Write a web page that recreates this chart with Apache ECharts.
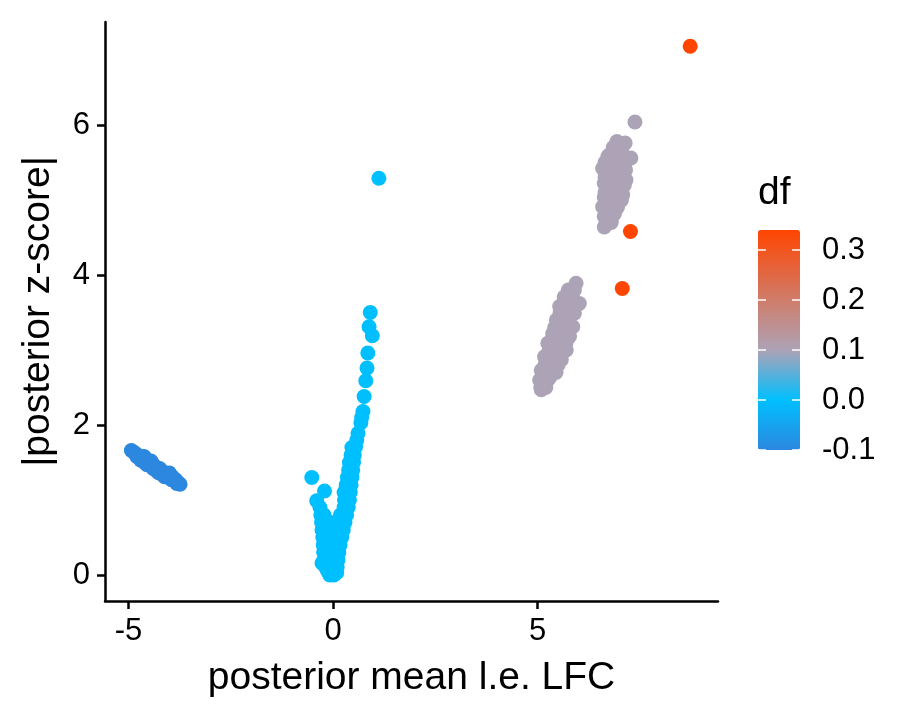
<!DOCTYPE html>
<html>
<head>
<meta charset="utf-8">
<script src="https://cdn.jsdelivr.net/npm/echarts@6/dist/echarts.min.js"></script>
<style>
html,body{margin:0;padding:0;background:#fff;}
#chart{width:900px;height:720px;}
</style>
</head>
<body>
<div id="chart"></div>
<script>
// ---- data ----
// df = -0.1 group
const lfcNeg = [-4.93,-4.85,-4.78,-4.72,-4.66,-4.60,-4.60,-4.55,-4.50,-4.45,-4.45,-4.42,-4.38,-4.33,-4.30,-4.28,-4.24,-4.20,-4.15,-4.10,-4.05,-4.05,-4.00,-3.98,-3.93,-3.88,-3.85,-3.80,-3.74,
  -4.80,-4.70,-4.55,-4.40,-4.25,-4.12,-3.95,-3.82,-4.62];
const zNeg   = [1.66,1.63,1.60,1.58,1.55,1.54,1.50,1.51,1.50,1.47,1.52,1.49,1.45,1.44,1.38,1.41,1.42,1.39,1.37,1.36,1.35,1.31,1.36,1.32,1.31,1.28,1.27,1.24,1.21,
  1.58,1.53,1.47,1.42,1.36,1.31,1.27,1.22,1.58];
const dfNeg = -0.1;

// df = 0 group
const lfcZero = [1.12,0.91,0.88,0.96,0.85,0.83,0.80,0.76,0.73,0.70,0.68,0.61,0.58,
  0.46,0.55,0.44,0.52,0.40,0.50,0.38,0.48,0.35,0.46,0.32,0.44,0.27,0.33,0.42,0.28,0.40,0.27,0.37,
  0.18,0.33,0.14,0.29,0.10,0.25,0.08,0.21,0.05,0.17,0.03,0.14,0.02,0.12,0.01,0.10,0.05,0.09,
  -0.52,-0.21,-0.40,-0.32,-0.30,-0.22,-0.28,-0.18,-0.05,-0.27,-0.15,-0.03,-0.25,-0.12,0.00,
  -0.24,-0.10,-0.02,-0.23,-0.12,-0.22,-0.08,-0.27,-0.18,-0.06,-0.13,-0.02,-0.08,0.02];
const zZero = [5.29,3.50,3.31,3.19,2.96,2.76,2.59,2.38,2.18,2.10,2.03,1.89,1.80,
  1.70,1.71,1.60,1.60,1.50,1.50,1.40,1.40,1.30,1.30,1.20,1.20,1.10,1.10,1.10,1.00,1.00,0.90,0.90,
  0.80,0.80,0.70,0.70,0.60,0.60,0.50,0.50,0.40,0.40,0.30,0.30,0.20,0.20,0.10,0.10,0.03,0.03,
  1.30,1.12,0.99,0.90,0.80,0.80,0.70,0.70,0.70,0.60,0.60,0.60,0.50,0.50,0.50,
  0.40,0.40,0.40,0.30,0.30,0.20,0.20,0.16,0.10,0.10,0.05,0.05,0.00,0.00];
const dfZero = 0.0;

// df = 0.1 groups (two clusters)
const lfcMidHi = [7.38,6.94,7.14,7.28,6.59,6.72,6.95,7.16,6.63,6.63,7.08,6.59,6.96,6.63,6.88,6.63,
  6.85,7.05,6.75,6.90,7.10,6.65,6.90,7.15,6.70,6.95,7.15,6.65,6.85,7.10,6.70,6.95,7.12,6.65,6.85,7.05,6.70,6.90,7.05,6.75,6.95,6.70,6.85,6.68,6.80];
const zMidHi   = [6.04,5.78,5.76,5.56,5.42,5.58,5.63,5.27,5.22,5.04,5.07,4.91,4.93,4.78,4.82,4.64,
  5.70,5.70,5.60,5.60,5.60,5.50,5.50,5.50,5.40,5.40,5.40,5.30,5.30,5.30,5.20,5.20,5.20,5.10,5.10,5.10,5.00,5.00,5.00,4.90,4.90,4.80,4.80,4.70,4.70];
const lfcMidLo = [5.94,5.66,6.02,5.54,5.90,5.46,5.86,5.37,5.78,5.25,5.70,5.17,5.58,5.09,5.41,5.05,5.29,5.09,
  5.75,5.90,5.65,5.85,5.60,5.80,5.95,5.55,5.75,5.50,5.70,5.42,5.62,5.80,5.38,5.58,5.75,5.32,5.50,5.70,5.28,5.45,5.62,5.22,5.40,5.55,5.18,5.35,5.50,5.12,5.30,5.45,5.10,5.25,5.08,5.20];
const zMidLo   = [3.89,3.71,3.62,3.58,3.49,3.40,3.31,3.22,3.18,3.09,3.00,2.91,2.87,2.73,2.73,2.60,2.63,2.47,
  3.80,3.80,3.70,3.70,3.60,3.60,3.60,3.50,3.50,3.40,3.40,3.30,3.30,3.30,3.20,3.20,3.20,3.10,3.10,3.10,3.00,3.00,3.00,2.90,2.90,2.90,2.80,2.80,2.80,2.70,2.70,2.70,2.60,2.60,2.50,2.50];
const dfMid = 0.1;

// df = max group
const lfcHigh = [8.73,7.27,7.07];
const zHigh   = [7.05,4.58,3.82];
const dfHigh = 0.34;

// axes / legend ticks
const xTicks = [-5, 0, 5];
const yTicks = [0, 2, 4, 6];
const dfTicks = [0.3, 0.2, 0.1, 0.0, -0.1];
const dfTickLabels = ['0.3','0.2','0.1','0.0','-0.1'];

// ---- build ----
function pts(xs, ys, d){ return xs.map((x,i)=>[x, ys[i], d]); }
const data = [].concat(
  pts(lfcNeg, zNeg, dfNeg),
  pts(lfcZero, zZero, dfZero),
  pts(lfcMidHi, zMidHi, dfMid),
  pts(lfcMidLo, zMidLo, dfMid),
  pts(lfcHigh, zHigh, dfHigh)
);

const dfMin = -0.1, dfMax = 0.34;
// colour anchors (value, colour)
const anchorVals = [-0.1, 0.0, 0.1, 0.34];
const anchorCols = ['#2C87DF', '#00BFFF', '#ADA3B6', '#FF4500'];
function h2r(h){ return [parseInt(h.slice(1,3),16),parseInt(h.slice(3,5),16),parseInt(h.slice(5,7),16)]; }
function r2h(c){ return '#'+c.map(v=>Math.round(v).toString(16).padStart(2,'0')).join(''); }
function colAt(v){
  for(let i=0;i<anchorVals.length-1;i++){
    if(v<=anchorVals[i+1]+1e-9){
      const t=(v-anchorVals[i])/(anchorVals[i+1]-anchorVals[i]);
      const a=h2r(anchorCols[i]), b=h2r(anchorCols[i+1]);
      return r2h(a.map((c,k)=>c+(b[k]-c)*Math.max(0,Math.min(1,t))));
    }
  }
  return anchorCols[anchorCols.length-1];
}
const nStops = 89;
const ramp = [];
for(let i=0;i<nStops;i++){ ramp.push(colAt(dfMin + (dfMax-dfMin)*i/(nStops-1))); }

const FONT = 'Liberation Sans';
const barLeft = 758, barTop = 230, barW = 42, barH = 220;
function dfY(v){ return barTop + (dfMax - v)/(dfMax - dfMin)*barH; }

const graphics = [{
  type:'text', left: barLeft, top: 174,
  style:{ text:'df', font: '39px "'+FONT+'"', fill:'#000' }
}];
dfTicks.forEach((v,i)=>{
  const y = dfY(v);
  graphics.push({type:'line', shape:{x1:barLeft, y1:y, x2:barLeft+8, y2:y}, style:{stroke:'#fff', lineWidth:1.5}, z:100});
  graphics.push({type:'line', shape:{x1:barLeft+barW-8, y1:y, x2:barLeft+barW, y2:y}, style:{stroke:'#fff', lineWidth:1.5}, z:100});
  graphics.push({type:'text', x: barLeft+barW+22, y: y,
    style:{ text: dfTickLabels[i], font:'31px "'+FONT+'"', fill:'#000', textVerticalAlign:'middle', verticalAlign:'middle' }, z:100});
});

const chart = echarts.init(document.getElementById('chart'));
chart.setOption({
  backgroundColor:'#fff',
  animation:false,
  grid:{ left:105, top:22, width:613, height:579, containLabel:false },
  xAxis:{
    type:'value', min:-5.575, max:9.41,
    splitLine:{show:false},
    axisLine:{ onZero:false, lineStyle:{color:'#000', width:2.5} },
    axisTick:{ show:true, length:8, lineStyle:{color:'#000', width:2.5}, customValues: xTicks },
    axisLabel:{ customValues: xTicks, color:'#000', fontSize:31, fontFamily:FONT, margin:15 },
    name:'posterior mean l.e. LFC', nameLocation:'middle', nameGap:58,
    nameTextStyle:{ color:'#000', fontSize:39, fontFamily:FONT }
  },
  yAxis:{
    type:'value', min:-0.347, max:7.373,
    splitLine:{show:false},
    axisLine:{ onZero:false, lineStyle:{color:'#000', width:2.5} },
    axisTick:{ show:true, length:8, lineStyle:{color:'#000', width:2.5}, customValues: yTicks },
    axisLabel:{ customValues: yTicks, color:'#000', fontSize:31, fontFamily:FONT, margin:15 },
    name:'|posterior z-score|', nameLocation:'middle', nameGap:47, nameRotate:90,
    nameTextStyle:{ color:'#000', fontSize:39, fontFamily:FONT }
  },
  visualMap:{
    type:'continuous', min:dfMin, max:dfMax, dimension:2,
    orient:'vertical', left:barLeft, top:barTop, itemWidth:barW, itemHeight:barH,
    padding:0, calculable:false, hoverLink:false, text:null, showLabel:false,
    inRange:{ color: ramp }
  },
  graphic: graphics,
  series:[{
    type:'scatter', data:data, symbol:'circle', symbolSize:15,
    itemStyle:{ opacity:1 }
  }]
});
</script>
</body>
</html>
